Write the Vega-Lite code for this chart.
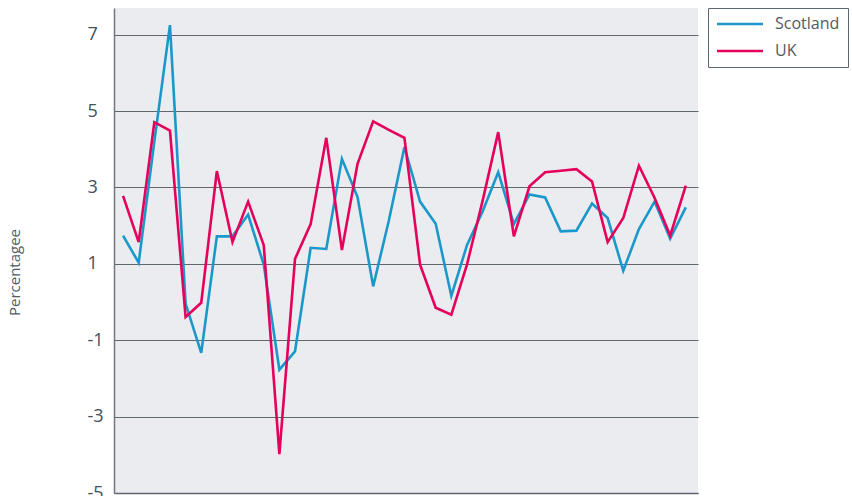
{
  "$schema": "https://vega.github.io/schema/vega-lite/v6.json",
  "width": 584,
  "height": 485,
  "autosize": {"type": "none"},
  "padding": {"left": 114, "top": 8, "right": 154, "bottom": 3},
  "background": "white",
  "config": {
    "view": {"stroke": null, "fill": "#ebecf0"},
    "font": "Open Sans"
  },
  "data": {
    "values": [
      {"idx": 0, "region": "Scotland", "value": 1.74},
      {"idx": 1, "region": "Scotland", "value": 1.03},
      {"idx": 2, "region": "Scotland", "value": 4.2},
      {"idx": 3, "region": "Scotland", "value": 7.25},
      {"idx": 4, "region": "Scotland", "value": -0.04},
      {"idx": 5, "region": "Scotland", "value": -1.33},
      {"idx": 6, "region": "Scotland", "value": 1.72},
      {"idx": 7, "region": "Scotland", "value": 1.72},
      {"idx": 8, "region": "Scotland", "value": 2.29},
      {"idx": 9, "region": "Scotland", "value": 0.98},
      {"idx": 10, "region": "Scotland", "value": -1.77},
      {"idx": 11, "region": "Scotland", "value": -1.29},
      {"idx": 12, "region": "Scotland", "value": 1.42},
      {"idx": 13, "region": "Scotland", "value": 1.39},
      {"idx": 14, "region": "Scotland", "value": 3.75},
      {"idx": 15, "region": "Scotland", "value": 2.75},
      {"idx": 16, "region": "Scotland", "value": 0.41},
      {"idx": 17, "region": "Scotland", "value": 2.13},
      {"idx": 18, "region": "Scotland", "value": 4.06},
      {"idx": 19, "region": "Scotland", "value": 2.63},
      {"idx": 20, "region": "Scotland", "value": 2.05},
      {"idx": 21, "region": "Scotland", "value": 0.16},
      {"idx": 22, "region": "Scotland", "value": 1.49},
      {"idx": 23, "region": "Scotland", "value": 2.37},
      {"idx": 24, "region": "Scotland", "value": 3.4},
      {"idx": 25, "region": "Scotland", "value": 2.04},
      {"idx": 26, "region": "Scotland", "value": 2.82},
      {"idx": 27, "region": "Scotland", "value": 2.74},
      {"idx": 28, "region": "Scotland", "value": 1.85},
      {"idx": 29, "region": "Scotland", "value": 1.87},
      {"idx": 30, "region": "Scotland", "value": 2.58},
      {"idx": 31, "region": "Scotland", "value": 2.2},
      {"idx": 32, "region": "Scotland", "value": 0.82},
      {"idx": 33, "region": "Scotland", "value": 1.91},
      {"idx": 34, "region": "Scotland", "value": 2.63},
      {"idx": 35, "region": "Scotland", "value": 1.66},
      {"idx": 36, "region": "Scotland", "value": 2.48},
      {"idx": 0, "region": "UK", "value": 2.78},
      {"idx": 1, "region": "UK", "value": 1.57},
      {"idx": 2, "region": "UK", "value": 4.71},
      {"idx": 3, "region": "UK", "value": 4.49},
      {"idx": 4, "region": "UK", "value": -0.39},
      {"idx": 5, "region": "UK", "value": -0.02},
      {"idx": 6, "region": "UK", "value": 3.43},
      {"idx": 7, "region": "UK", "value": 1.57},
      {"idx": 8, "region": "UK", "value": 2.63},
      {"idx": 9, "region": "UK", "value": 1.49},
      {"idx": 10, "region": "UK", "value": -3.98},
      {"idx": 11, "region": "UK", "value": 1.13},
      {"idx": 12, "region": "UK", "value": 2.04},
      {"idx": 13, "region": "UK", "value": 4.3},
      {"idx": 14, "region": "UK", "value": 1.36},
      {"idx": 15, "region": "UK", "value": 3.62},
      {"idx": 16, "region": "UK", "value": 4.73},
      {"idx": 17, "region": "UK", "value": 4.51},
      {"idx": 18, "region": "UK", "value": 4.3},
      {"idx": 19, "region": "UK", "value": 0.98},
      {"idx": 20, "region": "UK", "value": -0.15},
      {"idx": 21, "region": "UK", "value": -0.33},
      {"idx": 22, "region": "UK", "value": 0.98},
      {"idx": 23, "region": "UK", "value": 2.65},
      {"idx": 24, "region": "UK", "value": 4.45},
      {"idx": 25, "region": "UK", "value": 1.72},
      {"idx": 26, "region": "UK", "value": 3.03},
      {"idx": 27, "region": "UK", "value": 3.4},
      {"idx": 28, "region": "UK", "value": 3.44},
      {"idx": 29, "region": "UK", "value": 3.48},
      {"idx": 30, "region": "UK", "value": 3.16},
      {"idx": 31, "region": "UK", "value": 1.57},
      {"idx": 32, "region": "UK", "value": 2.2},
      {"idx": 33, "region": "UK", "value": 3.57},
      {"idx": 34, "region": "UK", "value": 2.73},
      {"idx": 35, "region": "UK", "value": 1.74},
      {"idx": 36, "region": "UK", "value": 3.05}
    ]
  },
  "mark": {"type": "line", "strokeWidth": 2.6, "strokeJoin": "miter"},
  "encoding": {
    "x": {
      "field": "idx",
      "type": "quantitative",
      "scale": {"domain": [-0.58, 36.78], "nice": false, "zero": false},
      "axis": {
        "title": null,
        "labels": false,
        "ticks": false,
        "grid": false,
        "domainColor": "#5d6670",
        "domainWidth": 1.5
      }
    },
    "y": {
      "field": "value",
      "type": "quantitative",
      "scale": {"domain": [-5, 7.7], "nice": false, "zero": false},
      "axis": {
        "values": [-5, -3, -1, 1, 3, 5, 7],
        "labelExpr": "datum.value + ''",
        "title": "Percentagee",
        "titleFontSize": 15,
        "titleFontWeight": "normal",
        "titleColor": "#505a64",
        "titleX": -100,
        "titleY": 264,
        "titleAlign": "center",
        "titleBaseline": "middle",
        "titleAngle": -90,
        "ticks": false,
        "labelAlign": "left",
        "labelPadding": 27,
        "labelFontSize": 18,
        "labelColor": "#46505a",
        "labelBaseline": "middle",
        "labelBound": false,
        "gridColor": "#5f676e",
        "gridWidth": 1,
        "gridOpacity": 1,
        "domainColor": "#70767c",
        "domainWidth": 1.5
      }
    },
    "color": {
      "field": "region",
      "type": "nominal",
      "scale": {"domain": ["Scotland", "UK"], "range": ["#1b98c9", "#e4005b"]},
      "legend": {
        "title": null,
        "orient": "none",
        "legendX": 594,
        "legendY": 0,
        "symbolType": "M-4.6,0H4.6",
        "symbolSize": 100,
        "symbolOffset": 16,
        "symbolStrokeWidth": 2.6,
        "labelFontSize": 16,
        "labelColor": "#505a64",
        "labelOffset": 27,
        "padding": 8,
        "rowPadding": 11,
        "strokeColor": "#5d6670",
        "fillColor": "white"
      }
    }
  }
}
